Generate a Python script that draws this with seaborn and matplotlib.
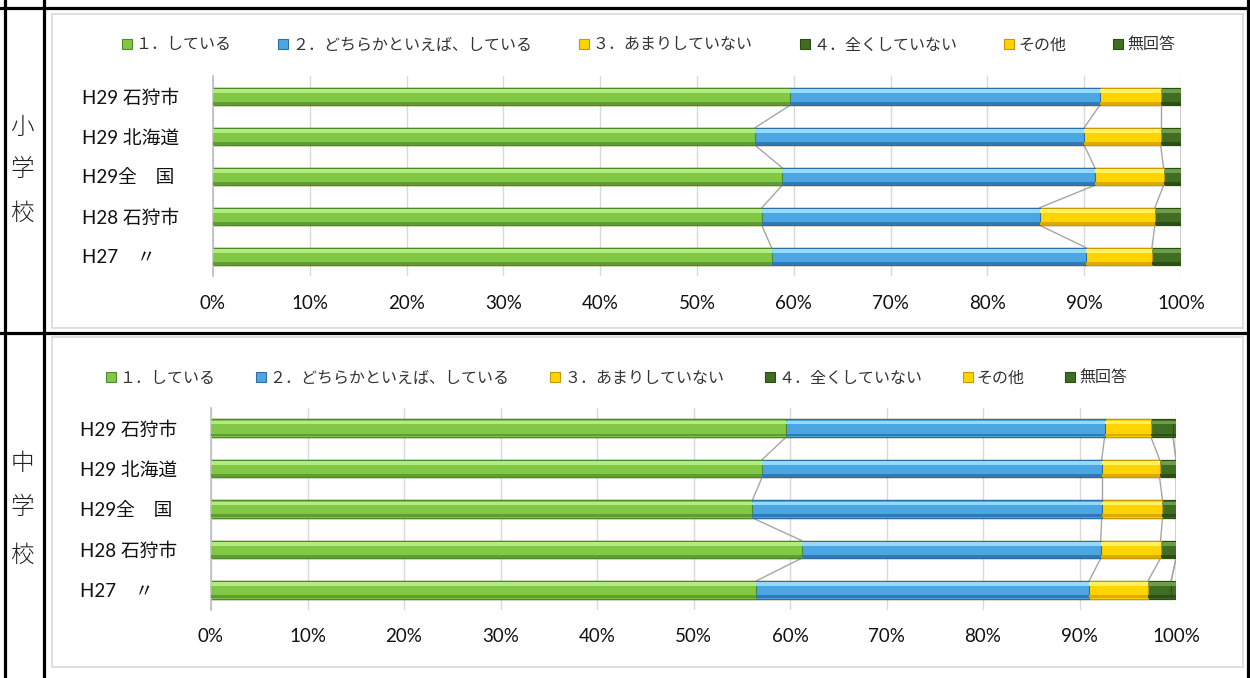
import numpy as np
import pandas as pd
import matplotlib
matplotlib.use("Agg")
import matplotlib.pyplot as plt
from matplotlib.lines import Line2D
from matplotlib.patches import Rectangle
from matplotlib.font_manager import FontProperties
import seaborn as sns

# ---------------- data ----------------
categories = ["H29 石狩市", "H29 北海道", "H29全　国", "H28 石狩市", "H27　〃"]
series_names = ["１．している", "２．どちらかといえば、している", "３．あまりしていない",
                "４．全くしていない", "その他", "無回答"]
ticks = [0, 10, 20, 30, 40, 50, 60, 70, 80, 90, 100]
tick_labels = [f"{t}%" for t in ticks]

# 小学校
elem_s1 = [59.6, 56.0, 58.8, 56.7, 57.7]
elem_s2 = [32.0, 34.0, 32.3, 28.7, 32.5]
elem_s3 = [6.3, 7.9, 7.1, 11.9, 6.8]
elem_s4 = [2.1, 2.1, 1.8, 2.7, 3.0]
elem_other = [0.0, 0.0, 0.0, 0.0, 0.0]
elem_none = [0.0, 0.0, 0.0, 0.0, 0.0]

# 中学校
jun_s1 = [59.6, 57.1, 56.1, 61.2, 56.5]
jun_s2 = [33.0, 35.2, 36.2, 31.0, 34.5]
jun_s3 = [4.8, 6.0, 6.3, 6.2, 6.1]
jun_s4 = [2.3, 1.7, 1.4, 1.6, 2.4]
jun_other = [0.0, 0.0, 0.0, 0.0, 0.0]
jun_none = [0.3, 0.0, 0.0, 0.0, 0.5]

# ---------------- style ----------------
sns.set_theme(style="white")
plt.rcParams["font.family"] = ["Lato", "Noto Sans CJK JP", "DejaVu Sans"]

styles = [
    # body, light, dark, edge
    ("#80c846", "#b0ec80", "#5f9c34", "#4f8a2a"),
    ("#4ca6e2", "#92daff", "#3079b8", "#2e6ea6"),
    ("#ffd400", "#fff25e", "#dcaa00", "#c79800"),
    ("#3f6e22", "#6e9c48", "#2b4f15", "#2a4d14"),
    ("#ffd400", "#fff25e", "#dcaa00", "#c79800"),
    ("#3f6e22", "#6e9c48", "#2b4f15", "#2a4d14"),
]

fig = plt.figure(figsize=(12.5, 6.78), dpi=100)

# frame boxes (light gray)
fig.add_artist(Rectangle((52 / 1250, (678 - 328) / 678), (1243 - 52) / 1250, (328 - 14) / 678,
                         transform=fig.transFigure, fill=False, ec="#d9d9d9", lw=1.2))
fig.add_artist(Rectangle((52 / 1250, (678 - 667) / 678), (1243 - 52) / 1250, (667 - 337) / 678,
                         transform=fig.transFigure, fill=False, ec="#d9d9d9", lw=1.2))

# table black lines
def hline(ypx):
    y = (678 - ypx) / 678
    fig.add_artist(Line2D([0, 1], [y, y], transform=fig.transFigure, color="black", lw=2.3))

def vline(xpx):
    x = xpx / 1250
    fig.add_artist(Line2D([x, x], [0, 1], transform=fig.transFigure, color="black", lw=2.3))

hline(8)
hline(333)
vline(4.5)
vline(44)
vline(1247.5)

# vertical row headers
for ch, ypx in zip("小学校", [127, 170, 213]):
    fig.text(22 / 1250, (678 - ypx) / 678, ch, ha="center", va="center", fontsize=17,
             family=["Noto Sans CJK JP"], weight="light", color="#222222")
for ch, ypx in zip("中学校", [463, 508, 555]):
    fig.text(22 / 1250, (678 - ypx) / 678, ch, ha="center", va="center", fontsize=17,
             family=["Noto Sans CJK JP"], weight="light", color="#222222")

BAR_H = 0.44


def draw_chart(ax, series, legend_center, colspacing):
    vals = np.array(series, dtype=float)  # shape (6, 5)
    cum = np.cumsum(vals, axis=0)
    starts = cum - vals
    pos = np.arange(len(categories))

    # grid
    ax.set_xlim(0, 100)
    ax.set_xticks(ticks)
    ax.set_xticklabels(tick_labels)
    ax.xaxis.grid(True, color="#d9d9d9", lw=1.0)
    ax.yaxis.grid(False)
    ax.set_axisbelow(True)

    # series lines connecting segment boundaries
    for k in range(len(series_names)):
        for i in range(len(categories) - 1):
            ax.plot([cum[k][i], cum[k][i + 1]], [i + BAR_H / 2, i + 1 - BAR_H / 2],
                    color="#a6a6a6", lw=1.0, zorder=1.5)

    # stacked bars via seaborn: largest cumulative first
    for k in reversed(range(len(series_names))):
        body, light, dark, edge = styles[k]
        df = pd.DataFrame({"cat": categories, "cum": cum[k]})
        sns.barplot(data=df, x="cum", y="cat", orient="h", color=body, saturation=1,
                    width=BAR_H, edgecolor=edge, linewidth=0.8, ax=ax, zorder=2)

    # bevel stripes
    for k in range(len(series_names)):
        body, light, dark, edge = styles[k]
        w = vals[k]
        s = starts[k]
        ax.barh(pos - BAR_H / 2 + 0.08, w, left=s, height=0.09, color=light, lw=0, zorder=3)
        ax.barh(pos + BAR_H / 2 - 0.05, w, left=s, height=0.07, color=dark, lw=0, zorder=3)

    ax.set_ylim(len(categories) - 0.5, -0.5)
    ax.set_xlabel("")
    ax.set_ylabel("")
    ax.set_yticks(pos)
    ax.set_yticklabels(categories, ha="left", fontsize=13.5, color="#111111")
    ax.tick_params(axis="y", length=0, pad=94)
    ax.tick_params(axis="x", length=0, pad=13, labelsize=13.5, labelcolor="#111111")
    for sp in ["top", "right", "bottom"]:
        ax.spines[sp].set_visible(False)
    ax.spines["left"].set_color("#bfbfbf")
    ax.spines["left"].set_linewidth(1.2)

    handles = []
    for k in range(len(series_names)):
        body, light, dark, edge = styles[k]
        handles.append(Line2D([], [], marker="s", ls="none", markersize=6.5,
                              markerfacecolor=body, markeredgecolor=edge, markeredgewidth=0.8))
    fig.legend(handles, series_names, loc="center", bbox_to_anchor=legend_center, ncol=6,
               frameon=False, prop=FontProperties(family=["Noto Sans CJK JP"], size=11.5),
               handlelength=0.7, handletextpad=0.2, columnspacing=colspacing,
               labelcolor="#333333")


ax1 = fig.add_axes([213 / 1250, (678 - 276.5) / 678, (1181 - 213) / 1250, 200 / 678])
draw_chart(ax1, [elem_s1, elem_s2, elem_s3, elem_s4, elem_other, elem_none],
           (648 / 1250, (678 - 45) / 678), 2.9)

ax2 = fig.add_axes([211 / 1250, (678 - 610) / 678, (1176 - 211) / 1250, 202 / 678])
draw_chart(ax2, [jun_s1, jun_s2, jun_s3, jun_s4, jun_other, jun_none],
           (616 / 1250, (678 - 378) / 678), 2.5)

fig.savefig("out.png", dpi=100)
